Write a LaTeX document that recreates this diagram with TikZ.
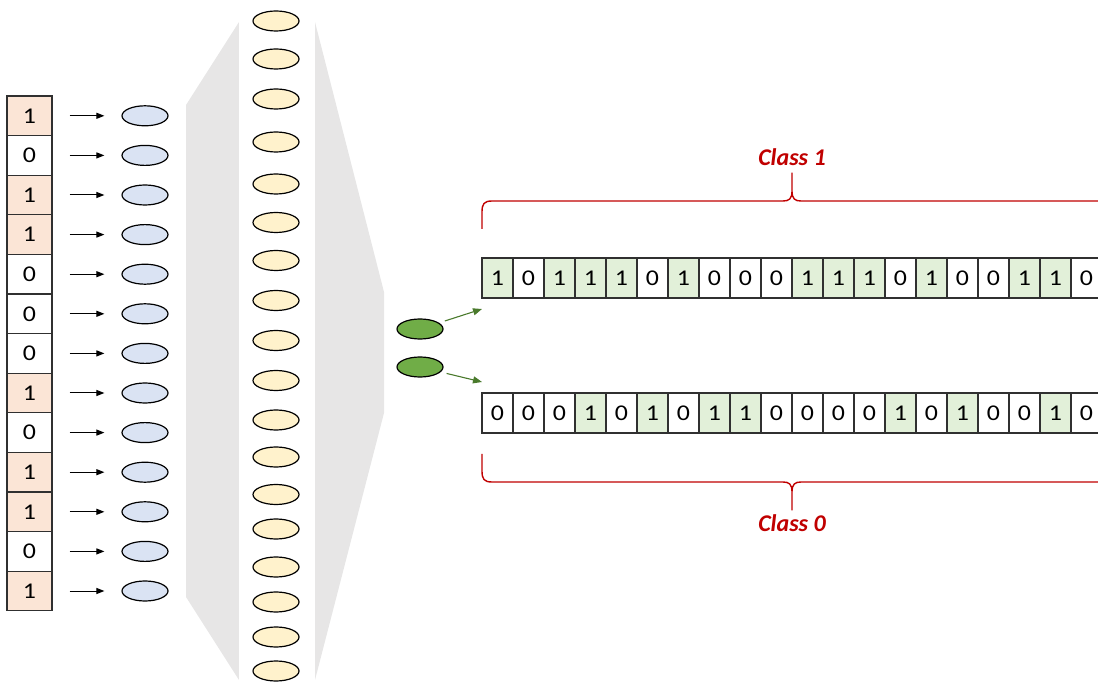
\documentclass[tikz,border=0pt]{standalone}
\usepackage{fontspec}
\setmainfont[Numbers=Lining]{Carlito}
\usetikzlibrary{shapes.geometric,arrows.meta}

% palette
\definecolor{lc1}{HTML}{FBE5D6}   % input bit = 1
\definecolor{lc0}{HTML}{FFFFFF}   % input bit = 0
\definecolor{rc1}{HTML}{E2F0D9}   % output bit = 1
\definecolor{rc0}{HTML}{FFFFFF}   % output bit = 0
\definecolor{embblue}{HTML}{DAE3F3}
\definecolor{hidyellow}{HTML}{FFF2CC}
\definecolor{outgreen}{HTML}{70AD47}
\definecolor{arrgreen}{HTML}{4A7A2C}
\definecolor{slab}{HTML}{E7E6E6}
\definecolor{braceRed}{HTML}{C00000}
\definecolor{cellline}{HTML}{303030}

% wide digit used inside the bit cells
\newcommand{\bitglyph}[1]{\scalebox{1.15}[1]{#1}}

\begin{document}
\begin{tikzpicture}[x=1pt,y=-1pt,
  incell/.style={draw=cellline,line width=1.1pt,minimum width=45pt,
    minimum height=39.6pt,inner sep=0pt,font=\fontsize{22.5}{26}\selectfont},
  outcell/.style={draw=cellline,line width=1.1pt,minimum width=31pt,
    minimum height=40pt,inner sep=0pt,font=\fontsize{22.5}{26}\selectfont},
  unit/.style={ellipse,draw=black,line width=1.2pt,minimum width=46pt,
    minimum height=20pt,inner sep=0pt},
  embunit/.style={unit,fill=embblue},
  hidunit/.style={unit,fill=hidyellow},
  outunit/.style={unit,fill=outgreen},
  feed/.style={-{Triangle[length=8pt,width=6pt]},line width=1pt,black,
    shorten <=17pt,shorten >=17pt},
  gfeed/.style={-{Triangle[length=9pt,width=7pt]},line width=1.1pt,arrgreen,
    shorten <=6pt},
  bracepath/.style={draw=braceRed,line width=1.4pt,line join=round},
  classlbl/.style={text=braceRed,font=\fontsize{24}{28}\selectfont\bfseries\itshape}
]
\useasboundingbox (0,0) rectangle (1098,684);
\clip (0,0) rectangle (1098,684);

% grey funnel behind the hidden layer
\fill[slab] (186,105) -- (239,22) -- (315,22) -- (384,292) -- (384,413)
  -- (315,680) -- (239,680) -- (186,597) -- cycle;
\fill[white] (239,0) rectangle (315,684);

% input bits and their embedding units
\foreach \b [count=\i] in {1,0,1,1,0,0,0,1,0,1,1,0,1} {
  \node[incell,fill=lc\b] (L\i) at (29.5,{96+39.6*(\i-0.5)}) {\bitglyph{\b}};
  \node[embunit] (B\i) at (145,{96+39.6*(\i-0.5)}) {};
  \draw[feed] (L\i) -- (B\i);
}

% hidden layer
\foreach \yy [count=\i] in {21,59,99,142,184,222.5,260.5,300.5,340.5,380.5,
    420,457,494.5,529,567,602,637,671} {
  \node[hidunit] (Y\i) at (276,\yy) {};
}

% output units
\node[outunit] (G1) at (420,329) {};
\node[outunit] (G2) at (420,367) {};

% generated sequences
\foreach \b [count=\i] in {1,0,1,1,1,0,1,0,0,0,1,1,1,0,1,0,0,1,1,0} {
  \node[outcell,fill=rc\b] (T\i) at ({482+31*(\i-0.5)},278) {\bitglyph{\b}};
}
\foreach \b [count=\i] in {0,0,0,1,0,1,0,1,1,0,0,0,0,1,0,1,0,0,1,0} {
  \node[outcell,fill=rc\b] (U\i) at ({482+31*(\i-0.5)},413) {\bitglyph{\b}};
}

% arrows from the output units to the sequences
\coordinate (a1) at (482,309);
\coordinate (a2) at (482,382);
\draw[gfeed] (G1) -- (a1);
\draw[gfeed] (G2) -- (a2);

% braces and class labels
\path[bracepath] (482,229) -- (482,212) .. controls (482,204) and (484,201) .. (492,201)
  -- (783,201) .. controls (789,201) and (792,199) .. (792,191) -- (792,173)
  -- (792,191) .. controls (792,199) and (795,201) .. (801,201) -- (1110,201);
\node[classlbl] (C1) at (792,157) {Class 1};

\path[bracepath] (482,454) -- (482,471) .. controls (482,479) and (484,482) .. (492,482)
  -- (783,482) .. controls (789,482) and (792,484) .. (792,492) -- (792,510)
  -- (792,492) .. controls (792,484) and (795,482) .. (801,482) -- (1110,482);
\node[classlbl] (C0) at (792,523) {Class 0};
\end{tikzpicture}
\end{document}
